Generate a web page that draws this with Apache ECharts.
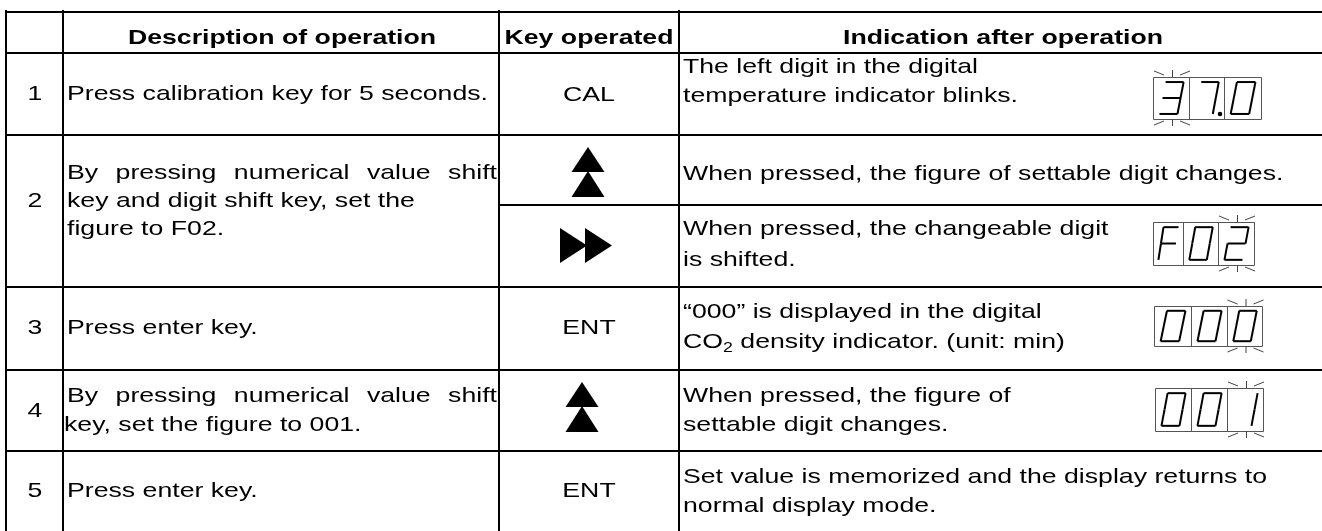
<!DOCTYPE html>
<html><head><meta charset="utf-8">
<script src="https://cdn.jsdelivr.net/npm/echarts@6/dist/echarts.min.js"></script>
<style>html,body{margin:0;padding:0;background:#fff}#c{width:1322px;height:531px}</style>
</head><body><div id="c"></div>
<script>
// ---------------- DATA ----------------
const headers = ['', 'Description of operation', 'Key operated', 'Indication after operation'];
const stepNumbers = ['1', '2', '3', '4', '5'];
const descriptions = [
  ['Press calibration key for 5 seconds.'],
  ['By pressing numerical value shift', 'key and digit shift key, set the', 'figure to F02.'],
  ['Press enter key.'],
  ['By pressing numerical value shift', 'key, set the figure to 001.'],
  ['Press enter key.']
];
const keysOperated = ['CAL', 'UP', 'SHIFT', 'ENT', 'UP', 'ENT'];
const indications = [
  ['The left digit in the digital', 'temperature indicator blinks.'],
  ['When pressed, the figure of settable digit changes.'],
  ['When pressed, the changeable digit', 'is shifted.'],
  ['\u201c000\u201d is displayed in the digital', 'CO\u2082 density indicator. (unit: min)'],
  ['When pressed, the figure of', 'settable digit changes.'],
  ['Set value is memorized and the display returns to', 'normal display mode.']
];
const displayDigits = [['3', '7.', '0'], null, ['F', '0', '2'], ['0', '0', '0'], ['0', '0', '1'], null];
const blinkingDigit = [0, null, 2, 2, 2, null];

// ---------------- LAYOUT ----------------
const SX = 1.27, FS = 21;
const FONT = FS + 'px "Liberation Sans", Arial, sans-serif';
const BFONT = 'bold ' + FS + 'px "Liberation Sans", Arial, sans-serif';
const colX = [6, 63, 499, 679];
const rightX = 1322;
const topY = 12, headerY = 53;
const subRowY = [53, 135, 205, 287, 370, 451, 531];
const partialLineIdx = [2];          // sub-row border drawn only across key & indication columns
const headerCX = [35, 282, 589, 1003], headerTY = 38;
const stepCX = 35, stepTY = [94, 201, 328, 411, 491];
const descX = [[67], [67, 67, 67], [67], [67, 64], [67]];
const descY = [[94], [173, 201, 229], [328], [396, 425], [491]];
const descJustify = [[0], [1, 0, 0], [0], [1, 0], [0]];
const descRight = 497;
const keyCX = [589, 588, 586, 589, 582, 589];
const keyTY = [95, 147, 228, 328, 382, 491];
const indX = 683;
const indY = [[67, 96], [174], [229, 260], [312, 342], [396, 425], [477, 506]];
const displayBox = [
  {x0: 1153, x1: 1261, y0: 77, y1: 119, d: [1189, 1224]},
  null,
  {x0: 1153, x1: 1254, y0: 222, y1: 265, d: [1183, 1218]},
  {x0: 1154, x1: 1262, y0: 306, y1: 346, d: [1191, 1227]},
  {x0: 1155, x1: 1263, y0: 388, y1: 431, d: [1191, 1227]},
  null
];

// ---------------- HELPERS ----------------
const cvs = document.createElement('canvas').getContext('2d');
function measure(t, font) { cvs.font = font; return cvs.measureText(t).width * SX; }
const els = [];
function text(t, x, y, align, font) {
  els.push({type: 'text', x: x, y: y, scaleX: SX, silent: true,
    style: {text: t, font: font || FONT, fill: '#000', align: align, textAlign: align,
      verticalAlign: 'middle', textVerticalAlign: 'middle'}});
}
function line(x1, y1, x2, y2, w, c) {
  els.push({type: 'line', silent: true, shape: {x1, y1, x2, y2}, style: {stroke: c || '#000', lineWidth: w}});
}
function poly(pts) {
  els.push({type: 'polygon', silent: true, shape: {points: pts}, style: {fill: '#000'}});
}
function richLine(t, x, y) {
  // handles subscript 2 (₂)
  const parts = t.split('\u2082');
  if (parts.length === 1) { text(t, x, y, 'left'); return; }
  text(parts[0], x, y, 'left');
  let cx = x + measure(parts[0], FONT);
  const SF = '14px "Liberation Sans", Arial, sans-serif';
  text('2', cx, y + 6, 'left', SF);
  cx += measure('2', SF);
  text(parts[1], cx, y, 'left');
}
function justified(t, x0, x1, y) {
  const words = t.split(' ');
  const ws = words.map(w => measure(w, FONT));
  const total = ws.reduce((a, b) => a + b, 0);
  const gap = (x1 - x0 - total) / (words.length - 1);
  let x = x0;
  words.forEach((w, i) => { text(w, x, y, 'left'); x += ws[i] + gap; });
}
// seven segment
const SEG = {a: [[0, 0], [1, 0]], b: [[1, 0], [1, .5]], c: [[1, .5], [1, 1]], d: [[0, 1], [1, 1]],
  e: [[0, .5], [0, 1]], f: [[0, 0], [0, .5]], g: [[0, .5], [1, .5]]};
const DIG = {'0': 'abcdef', '1': 'bc', '2': 'abged', '3': 'abgcd', '7': 'abc', 'F': 'afeg'};
function digit(ch, cx0, cx1, y0, y1) {
  const w = cx1 - cx0, h = y1 - y0;
  const top = y0 + 0.12 * h, bot = y1 - 0.12 * h;
  const dl = cx0 + 0.18 * w, dw = 0.5 * w, sl = 0.17 * w;
  const P = (u, v) => [dl + u * dw + (1 - v) * sl, top + v * (bot - top)];
  const c = ch.replace('.', '');
  (DIG[c] || '').split('').forEach(s => {
    const [p, q] = SEG[s];
    const A = P(p[0], p[1]), B = P(q[0], q[1]);
    line(A[0], A[1], B[0], B[1], 2, '#000');
  });
  if (ch.indexOf('.') >= 0) {
    els.push({type: 'circle', silent: true, shape: {cx: cx1 - 4, cy: y1 - 5, r: 2.3}, style: {fill: '#000'}});
  }
}
function display(box, digits, blink) {
  const xs = [box.x0, box.d[0], box.d[1], box.x1];
  els.push({type: 'rect', silent: true, shape: {x: box.x0 + .5, y: box.y0 + .5, width: box.x1 - box.x0, height: box.y1 - box.y0},
    style: {fill: 'none', stroke: '#555', lineWidth: 1}});
  box.d.forEach(d => line(d + .5, box.y0, d + .5, box.y1, 1, '#555'));
  digits.forEach((ch, i) => digit(ch, xs[i], xs[i + 1], box.y0, box.y1));
  if (blink != null) {
    const cx = (xs[blink] + xs[blink + 1]) / 2 + 1;
    const t = box.y0, b = box.y1;
    const C = '#444';
    line(cx - 18, t - 6, cx - 8, t - 2, 1, C); line(cx + 0.5, t - 7, cx + 0.5, t, 1, C); line(cx + 8, t - 2, cx + 18, t - 6, 1, C);
    line(cx - 18, b + 6, cx - 8, b + 2, 1, C); line(cx + 0.5, b, cx + 0.5, b + 7, 1, C); line(cx + 8, b + 2, cx + 18, b + 6, 1, C);
  }
}
function upKey(cx, t) {
  const hw = 16.5, h = 25;
  poly([[cx, t], [cx - hw, t + h], [cx + hw, t + h]]);
  poly([[cx, t + h - 1], [cx - hw, t + 2 * h], [cx + hw, t + 2 * h]]);
}
function shiftKey(cx, t) {
  const h = 35, w = 27;
  const x0 = cx - 26;
  poly([[x0, t], [x0, t + h], [x0 + w, t + h / 2]]);
  poly([[x0 + w - 2, t], [x0 + w - 2, t + h], [x0 + 2 * w - 2, t + h / 2]]);
}

// ---------------- BUILD ----------------
line(colX[0], topY, rightX, topY, 2);
line(colX[0], headerY, rightX, headerY, 2);
subRowY.slice(1, -1).forEach((y, i) => {
  const idx = i + 1;
  if (partialLineIdx.indexOf(idx) >= 0) line(colX[2], y, rightX, y, 2);
  else line(colX[0], y, rightX, y, 2);
});
colX.forEach(x => line(x, topY - 2, x, 531, 2));

headers.forEach((h, i) => { if (h) text(h, headerCX[i], headerTY, 'center', BFONT); });
stepNumbers.forEach((s, i) => text(s, stepCX, stepTY[i], 'center'));
descriptions.forEach((lines, r) => lines.forEach((t, k) => {
  if (descJustify[r][k]) justified(t, descX[r][k], descRight, descY[r][k]);
  else text(t, descX[r][k], descY[r][k], 'left');
}));
keysOperated.forEach((k, i) => {
  if (k === 'UP') upKey(keyCX[i], keyTY[i]);
  else if (k === 'SHIFT') shiftKey(keyCX[i], keyTY[i]);
  else text(k, keyCX[i], keyTY[i], 'center');
});
indications.forEach((lines, r) => lines.forEach((t, k) => richLine(t, indX, indY[r][k])));
displayDigits.forEach((d, i) => { if (d) display(displayBox[i], d, blinkingDigit[i]); });

const chart = echarts.init(document.getElementById('c'), null, {renderer: 'canvas'});
chart.setOption({backgroundColor: '#fff', animation: false, graphic: {elements: els}});
</script></body></html>
